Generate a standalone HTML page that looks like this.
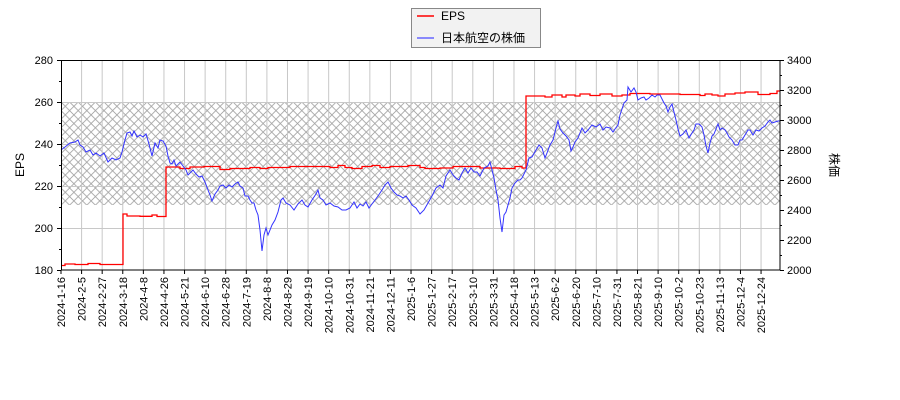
<!DOCTYPE html>
<html><head><meta charset="utf-8"><style>
html,body{margin:0;padding:0;background:#fff}
svg{display:block;font-family:"Liberation Sans","Noto Sans CJK JP",sans-serif}
</style></head><body>
<svg width="900" height="400" viewBox="0 0 900 400" xmlns="http://www.w3.org/2000/svg">
<defs>
<pattern id="h" width="8.6" height="8.6" patternUnits="userSpaceOnUse" x="61" y="102">
<path d="M0,0L8.6,8.6M8.6,0L0,8.6" stroke="#a0a0a0" stroke-width="0.8" fill="none"/>
</pattern>
</defs>
<rect x="61" y="102" width="719" height="103" fill="url(#h)"/>
<path stroke="#c8c8c8" stroke-width="1" fill="none" d="M81.59,60V270M102.18,60V270M122.77,60V270M143.36,60V270M163.95,60V270M184.54,60V270M205.13,60V270M225.72,60V270M246.31,60V270M266.9,60V270M287.49,60V270M308.08,60V270M328.67,60V270M349.26,60V270M369.85,60V270M390.44,60V270M411.03,60V270M431.62,60V270M452.21,60V270M472.8,60V270M493.39,60V270M513.98,60V270M534.57,60V270M555.16,60V270M575.75,60V270M596.34,60V270M616.93,60V270M637.52,60V270M658.11,60V270M678.7,60V270M699.29,60V270M719.88,60V270M740.47,60V270M761.06,60V270M61,228.5H780M61,186.5H780M61,144.5H780M61,102.5H780"/>
<path stroke="#000" stroke-width="1" fill="none" d="M61,270V274M81.59,270V274M102.18,270V274M122.77,270V274M143.36,270V274M163.95,270V274M184.54,270V274M205.13,270V274M225.72,270V274M246.31,270V274M266.9,270V274M287.49,270V274M308.08,270V274M328.67,270V274M349.26,270V274M369.85,270V274M390.44,270V274M411.03,270V274M431.62,270V274M452.21,270V274M472.8,270V274M493.39,270V274M513.98,270V274M534.57,270V274M555.16,270V274M575.75,270V274M596.34,270V274M616.93,270V274M637.52,270V274M658.11,270V274M678.7,270V274M699.29,270V274M719.88,270V274M740.47,270V274M761.06,270V274
M57,270.5H61M57,228.5H61M57,186.5H61M57,144.5H61M57,102.5H61M57,60.5H61M59,249.5H61M59,207.5H61M59,165.5H61M59,123.5H61M59,81.5H61
M780,270.5H784M780,240.5H784M780,210.5H784M780,180.5H784M780,150.5H784M780,120.5H784M780,90.5H784M780,60.5H784M780,255.5H782M780,225.5H782M780,195.5H782M780,165.5H782M780,135.5H782M780,105.5H782M780,75.5H782"/>
<g font-size="11" fill="#000" text-anchor="end">
<text x="53" y="274">180</text><text x="53" y="232">200</text><text x="53" y="190">220</text><text x="53" y="148">240</text><text x="53" y="106">260</text><text x="53" y="64">280</text>
</g>
<g font-size="11" fill="#000">
<text x="787" y="274">2000</text><text x="787" y="244">2200</text><text x="787" y="214">2400</text><text x="787" y="184">2600</text><text x="787" y="154">2800</text><text x="787" y="124">3000</text><text x="787" y="94">3200</text><text x="787" y="64">3400</text>
</g>
<g font-size="11" fill="#000" text-anchor="end">
<text transform="translate(65,277) rotate(-90)">2024-1-16</text>
<text transform="translate(85.59,277) rotate(-90)">2024-2-5</text>
<text transform="translate(106.18,277) rotate(-90)">2024-2-27</text>
<text transform="translate(126.77,277) rotate(-90)">2024-3-18</text>
<text transform="translate(147.36,277) rotate(-90)">2024-4-8</text>
<text transform="translate(167.95,277) rotate(-90)">2024-4-26</text>
<text transform="translate(188.54,277) rotate(-90)">2024-5-21</text>
<text transform="translate(209.13,277) rotate(-90)">2024-6-10</text>
<text transform="translate(229.72,277) rotate(-90)">2024-6-28</text>
<text transform="translate(250.31,277) rotate(-90)">2024-7-19</text>
<text transform="translate(270.9,277) rotate(-90)">2024-8-8</text>
<text transform="translate(291.49,277) rotate(-90)">2024-8-29</text>
<text transform="translate(312.08,277) rotate(-90)">2024-9-19</text>
<text transform="translate(332.67,277) rotate(-90)">2024-10-10</text>
<text transform="translate(353.26,277) rotate(-90)">2024-10-31</text>
<text transform="translate(373.85,277) rotate(-90)">2024-11-21</text>
<text transform="translate(394.44,277) rotate(-90)">2024-12-11</text>
<text transform="translate(415.03,277) rotate(-90)">2025-1-6</text>
<text transform="translate(435.62,277) rotate(-90)">2025-1-27</text>
<text transform="translate(456.21,277) rotate(-90)">2025-2-17</text>
<text transform="translate(476.8,277) rotate(-90)">2025-3-10</text>
<text transform="translate(497.39,277) rotate(-90)">2025-3-31</text>
<text transform="translate(517.98,277) rotate(-90)">2025-4-18</text>
<text transform="translate(538.57,277) rotate(-90)">2025-5-13</text>
<text transform="translate(559.16,277) rotate(-90)">2025-6-2</text>
<text transform="translate(579.75,277) rotate(-90)">2025-6-20</text>
<text transform="translate(600.34,277) rotate(-90)">2025-7-10</text>
<text transform="translate(620.93,277) rotate(-90)">2025-7-31</text>
<text transform="translate(641.52,277) rotate(-90)">2025-8-21</text>
<text transform="translate(662.11,277) rotate(-90)">2025-9-10</text>
<text transform="translate(682.7,277) rotate(-90)">2025-10-2</text>
<text transform="translate(703.29,277) rotate(-90)">2025-10-23</text>
<text transform="translate(723.88,277) rotate(-90)">2025-11-13</text>
<text transform="translate(744.47,277) rotate(-90)">2025-12-4</text>
<text transform="translate(765.06,277) rotate(-90)">2025-12-24</text>
</g>
<polyline fill="none" stroke="#ff0000" stroke-width="1.3" points="61,265.5 65,265.5 65,264 75,264 75,264.5 88,264.5 88,263.5 100,263.5 100,264.5 123,264.5 123,214 127,214 127,216 140,216 140,216.3 152,216.3 152,215 157,215 157,216.5 166,216.5 166,167 180,167 180,168.5 190,168.5 190,167 204,167 204,166.5 220,166.5 220,169.5 230,169.5 230,168.5 250,168.5 250,167.5 260,167.5 260,168.5 268,168.5 268,167.5 290,167.5 290,166.5 330,166.5 330,167.5 338,167.5 338,165.5 345,165.5 345,167.5 352,167.5 352,168.5 362,168.5 362,166.5 372,166.5 372,165.5 380,165.5 380,167.5 390,167.5 390,166.5 408,166.5 408,165.5 420,165.5 420,167.5 425,167.5 425,168.5 440,168.5 440,168 453,168 453,166.5 480,166.5 480,168 500,168 500,168.5 515,168.5 515,166.5 522,166.5 522,168 526,168 526,96 545,96 545,97 552,97 552,95 562,95 562,97 566,97 566,95 575,95 575,96 580,96 580,94 590,94 590,95.5 600,95.5 600,94 612,94 612,96 622,96 622,95 630,95 630,93.5 650,93.5 650,94 680,94 680,94.5 700,94.5 700,95.5 705,95.5 705,94 712,94 712,95 718,95 718,96 725,96 725,94 735,94 735,93 745,93 745,92 758,92 758,94.5 770,94.5 770,93.5 777,93.5 777,91 780,91"/>
<polyline fill="none" stroke="#3333ff" stroke-width="1" points="61,150 65,147 70,143 75,142 78,140 80,145 83,147 86,152 90,150 93,155 96,153 100,156 104,153 108,162 112,158 116,160 120,158 122,152 125,140 127,133 130,132 132,136 134,131 137,137 140,135 143,137 146,134 149,144 152,156 155,143 158,148 160,140 163,141 166,146 168,156 170,163 172,164 174,160 176,166 180,162 183,166 186,170 188,175 193,170 196,174 199,177 202,176 205,182 208,190 210,195 212,201 215,194 218,190 220,186 223,185 226,188 229,185 232,187 235,184 238,182 240,186 243,188 245,196 248,196 250,200 252,203 254,203 256,210 258,215 260,230 262,251 264,235 266,228 268,235 270,230 272,225 275,220 278,212 281,200 283,198 286,203 290,205 294,210 298,204 302,200 305,205 308,207 312,200 316,194 318,190 320,198 323,200 326,205 330,203 334,206 338,207 342,210 346,210 350,208 354,202 357,208 360,204 363,206 366,202 369,208 372,204 375,200 378,196 382,190 385,185 388,182 391,188 394,192 397,195 400,196 403,198 406,196 409,200 412,205 416,208 420,214 424,210 428,203 432,196 436,188 440,185 443,188 446,176 450,170 453,175 456,178 459,180 462,173 465,168 468,173 471,168 474,172 477,172 480,176 484,168 488,166 490,162 492,170 494,178 496,190 498,200 500,218 502,232 504,215 506,212 508,205 510,198 512,188 515,183 518,180 520,180 522,178 526,170 529,158 532,157 536,150 539,145 542,148 545,158 547,153 550,145 553,140 556,128 558,121 560,129 563,133 566,136 569,140 571,151 573,147 575,142 578,138 582,128 585,133 588,130 592,125 596,127 600,124 603,130 606,127 610,128 613,132 615,129 618,125 620,115 624,103 627,100 628,87 631,92 634,88 636,92 638,100 641,98 644,97 646,100 649,98 652,95 655,97 657,95 660,95 662,99 664,103 666,106 668,112 670,107 672,104 674,112 676,120 678,129 680,136 683,134 686,130 689,138 692,133 694,130 696,124 699,124 702,127 704,135 706,146 708,153 710,143 712,136 714,134 716,129 718,124 720,130 722,128 725,130 727,133 729,137 732,140 735,145 738,145 740,140 742,140 745,135 748,130 750,130 753,135 756,130 759,131 762,128 765,126 768,122 770,120 772,123 775,122 778,121 780,121"/>
<rect x="61.5" y="60.5" width="718.5" height="209.5" fill="none" stroke="#000" stroke-width="1"/>
<text x="24" y="165" font-size="12" text-anchor="middle" transform="rotate(-90 24 165)">EPS</text>
<text x="830" y="165" font-size="12" text-anchor="middle" transform="rotate(90 830 165)">株価</text>
<rect x="411.5" y="8.5" width="129" height="39" fill="#f2f2f2" stroke="#888"/>
<line x1="417" y1="16" x2="434" y2="16" stroke="#ff0000" stroke-width="1.5"/>
<text x="441" y="20" font-size="12">EPS</text>
<line x1="417" y1="38" x2="434" y2="38" stroke="#6666ff" stroke-width="1.5"/>
<text x="441" y="42" font-size="12">日本航空の株価</text>
</svg>
</body></html>
